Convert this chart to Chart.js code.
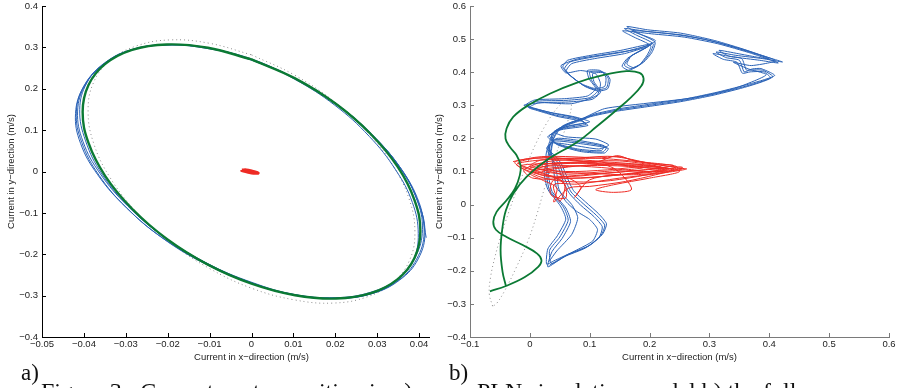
<!DOCTYPE html>
<html>
<head>
<meta charset="utf-8">
<script src="https://cdn.jsdelivr.net/npm/chart.js@4.4.0/dist/chart.umd.min.js"></script>
<style>
  html, body { margin: 0; padding: 0; background: #fff; overflow: hidden; }
  #page { position: relative; width: 899px; height: 388px; overflow: hidden; }
  canvas { position: absolute; top: 0; }
  #left { left: 0; }
  #right { left: 430px; background: #fff; }
  .tag { position: absolute; font-family: 'Liberation Serif', serif; font-size: 23px; line-height: 1; color: #111; }
  .caption { position: absolute; top: 379px; font-family: 'Liberation Serif', serif; font-size: 24px; line-height: 1; color: #111; white-space: nowrap; }
</style>
</head>
<body>
<div id="page">
  <canvas id="left" width="470" height="388"></canvas>
  <canvas id="right" width="469" height="388"></canvas>
  <div class="tag" style="left:21px; top:361px">a)</div>
  <div class="tag" style="left:449px; top:361px">b)</div>
  <div class="caption" style="left:41px">Figure 3:&nbsp; Current vector position in a)</div>
  <div class="caption" style="left:477px">PLN simulation model b) the full</div>
</div>
<script>
// ---- panel a: tidal ellipse ----
const leftXTicks = [-0.05, -0.04, -0.03, -0.02, -0.01, 0, 0.01, 0.02, 0.03, 0.04, 0.05];
const leftYTicks = [-0.4, -0.3, -0.2, -0.1, 0, 0.1, 0.2, 0.3, 0.4];

const leftReference = [
  [0, 0.282], [0.0101, 0.234], [0.0195, 0.171], [0.0276, 0.096], [0.0338, 0.014], [0.0377, -0.069],
  [0.039, -0.147], [0.0377, -0.215], [0.0338, -0.268], [0.0276, -0.303], [0.0195, -0.318], [0.0101, -0.310],
  [0, -0.282], [-0.0101, -0.234], [-0.0195, -0.171], [-0.0276, -0.096], [-0.0338, -0.014], [-0.0377, 0.069],
  [-0.039, 0.147], [-0.0377, 0.215], [-0.0338, 0.268], [-0.0276, 0.303], [-0.0195, 0.318], [-0.0101, 0.310],
  [0, 0.282]
];

const leftModel = [
  [0, 0.271], [0.0104, 0.225], [0.0202, 0.163], [0.0285, 0.090], [0.0349, 0.011], [0.0389, -0.069],
  [0.0403, -0.144], [0.0389, -0.209], [0.0349, -0.260], [0.0285, -0.294], [0.0202, -0.307], [0.0104, -0.299],
  [0, -0.271], [-0.0104, -0.225], [-0.0202, -0.163], [-0.0285, -0.090], [-0.0349, -0.011], [-0.0389, 0.069],
  [-0.0403, 0.144], [-0.0389, 0.209], [-0.0349, 0.260], [-0.0285, 0.294], [-0.0202, 0.307], [-0.0104, 0.299],
  [0, 0.271]
];

const leftObserved = [
  [0.0, 0.270], [0.0105, 0.224], [0.0204, 0.161], [0.0289, 0.087], [0.0356, 0.006], [0.0397, -0.072],
  [0.0412, -0.147], [0.0394, -0.212], [0.0352, -0.262], [0.0286, -0.295], [0.0201, -0.306], [0.0102, -0.298],
  [-0.0003, -0.268], [-0.0108, -0.221], [-0.0209, -0.158], [-0.0296, -0.083], [-0.0362, -0.004], [-0.0402, 0.072],
  [-0.0415, 0.146], [-0.0396, 0.211], [-0.0351, 0.261], [-0.0286, 0.294], [-0.0201, 0.306], [-0.0103, 0.298],
  [0.0, 0.269], [0.0102, 0.226], [0.0200, 0.164], [0.0283, 0.092], [0.0352, 0.014], [0.0394, -0.066],
  [0.0408, -0.140], [0.0391, -0.207], [0.0350, -0.259], [0.0284, -0.292], [0.0200, -0.305], [0.0101, -0.297],
  [-0.0004, -0.269], [-0.0110, -0.222], [-0.0213, -0.160], [-0.0300, -0.086], [-0.0367, -0.008], [-0.0408, 0.068],
  [-0.0420, 0.140], [-0.0400, 0.206], [-0.0353, 0.258], [-0.0287, 0.293], [-0.0202, 0.306], [-0.0104, 0.297],
  [0.0, 0.272], [0.0103, 0.223], [0.0199, 0.160], [0.0281, 0.085], [0.0344, 0.004], [0.0384, -0.075],
  [0.0398, -0.150], [0.0386, -0.214], [0.0347, -0.263], [0.0284, -0.296], [0.0203, -0.306], [0.0105, -0.298],
  [0.0001, -0.268], [-0.0106, -0.222], [-0.0206, -0.160], [-0.0292, -0.086], [-0.0357, -0.006], [-0.0396, 0.074],
  [-0.0410, 0.150], [-0.0393, 0.214], [-0.0350, 0.263], [-0.0285, 0.295], [-0.0201, 0.307], [-0.0104, 0.299],
  [0.0, 0.270], [0.0104, 0.225], [0.0203, 0.163], [0.0287, 0.090], [0.0354, 0.010], [0.0396, -0.070],
  [0.0414, -0.145], [0.0398, -0.211], [0.0354, -0.262], [0.0288, -0.295], [0.0203, -0.307], [0.0104, -0.299],
  [-0.0002, -0.270], [-0.0109, -0.224], [-0.0211, -0.162], [-0.0298, -0.088], [-0.0364, -0.009], [-0.0405, 0.070],
  [-0.0418, 0.144], [-0.0398, 0.210], [-0.0352, 0.260], [-0.0287, 0.294], [-0.0202, 0.306], [-0.0103, 0.298],
  [0.0, 0.270], [0.0104, 0.225], [0.0203, 0.163], [0.0287, 0.090], [0.0356, 0.008], [0.0400, -0.075],
  [0.0417, -0.160]
];

const leftResidual = [
  [-0.0023, 0.0035], [-0.0012, 0.0038], [0.0002, 0.0005], [0.0016, -0.0035], [0.0005, -0.0042],
  [-0.0010, -0.0010], [-0.0023, 0.0020], [-0.0023, 0.0035]
];

// ---- panel b: full current ----
const rightXTicks = [-0.1, 0, 0.1, 0.2, 0.3, 0.4, 0.5, 0.6];
const rightYTicks = [-0.4, -0.3, -0.2, -0.1, 0, 0.1, 0.2, 0.3, 0.4, 0.5, 0.6];

const rightReference = [
  [-0.0622, -0.307], [-0.0678, -0.269], [-0.0656, -0.219], [-0.0583, -0.158], [-0.0489, -0.098],
  [-0.0361, -0.027], [-0.0222, 0.043], [-0.0067, 0.114], [0.0100, 0.184], [0.0278, 0.245], [0.0472, 0.295],
  [0.0622, 0.315], [0.0694, 0.305], [0.0639, 0.255], [0.0500, 0.184], [0.0361, 0.114], [0.0250, 0.053],
  [0.0122, -0.027], [-0.0028, -0.108], [-0.0222, -0.188], [-0.0417, -0.259], [-0.0556, -0.299], [-0.0622, -0.307]
];

const rightModel = [
  [-0.0667, -0.262], [-0.040, -0.246], [-0.0083, -0.219], [0.0139, -0.188], [0.0194, -0.168], [0.0122, -0.148],
  [-0.0111, -0.123], [-0.0389, -0.098], [-0.0567, -0.076], [-0.0611, -0.052], [-0.0556, -0.022], [-0.0389, 0.013],
  [-0.025, 0.048], [-0.0167, 0.089], [-0.0156, 0.119], [-0.0222, 0.149], [-0.0333, 0.174], [-0.0406, 0.199],
  [-0.0389, 0.230], [-0.0278, 0.265], [-0.0028, 0.300], [0.0333, 0.335], [0.0778, 0.368], [0.1222, 0.391],
  [0.1611, 0.403], [0.1833, 0.398], [0.190, 0.381], [0.1861, 0.358], [0.1694, 0.325], [0.1444, 0.285],
  [0.1111, 0.235], [0.0806, 0.191], [0.0278, 0.134], [-0.0056, 0.084], [-0.0278, 0.033], [-0.040, -0.017],
  [-0.0456, -0.067], [-0.0489, -0.138], [-0.0456, -0.203], [-0.040, -0.246]
];

const rightObserved = [
  [0.033, -0.183], [0.061, -0.153], [0.097, -0.126], [0.119, -0.093], [0.125, -0.062], [0.111, -0.032],
  [0.089, 0.003], [0.069, 0.038], [0.058, 0.079], [0.050, 0.119], [0.039, 0.144], [0.031, 0.174],
  [0.042, 0.196], [0.083, 0.189], [0.128, 0.174], [0.122, 0.159], [0.083, 0.164], [0.044, 0.184],
  [0.033, 0.209], [0.056, 0.230], [0.094, 0.243], [0.083, 0.257], [0.044, 0.270], [0.006, 0.290],
  [-0.004, 0.297], [0.011, 0.312], [0.061, 0.315], [0.100, 0.323], [0.114, 0.345], [0.103, 0.376],
  [0.100, 0.401], [0.122, 0.401], [0.131, 0.381], [0.128, 0.353], [0.111, 0.347], [0.089, 0.361],
  [0.067, 0.391], [0.058, 0.411], [0.067, 0.431], [0.106, 0.446], [0.156, 0.461], [0.200, 0.481],
  [0.186, 0.466], [0.167, 0.446], [0.158, 0.421], [0.169, 0.411], [0.186, 0.426], [0.200, 0.456],
  [0.206, 0.486], [0.178, 0.512], [0.158, 0.532], [0.200, 0.522], [0.256, 0.512], [0.311, 0.491],
  [0.367, 0.461], [0.422, 0.431], [0.389, 0.441], [0.344, 0.451], [0.311, 0.461], [0.328, 0.444],
  [0.350, 0.436], [0.358, 0.401], [0.367, 0.406], [0.389, 0.406], [0.406, 0.386], [0.367, 0.361],
  [0.311, 0.335], [0.256, 0.315], [0.200, 0.300], [0.144, 0.285], [0.106, 0.270], [0.083, 0.255],
  [0.067, 0.245], [0.044, 0.225], [0.036, 0.194], [0.031, 0.154], [0.028, 0.094], [0.033, 0.043],
  [0.056, -0.007], [0.064, -0.047], [0.050, -0.098], [0.033, -0.138],
  [0.036, -0.178], [0.065, -0.150], [0.101, -0.122], [0.122, -0.088], [0.128, -0.058], [0.115, -0.028],
  [0.093, 0.008], [0.073, 0.042], [0.062, 0.083], [0.053, 0.122], [0.042, 0.148], [0.028, 0.170],
  [0.040, 0.192], [0.085, 0.184], [0.131, 0.170], [0.125, 0.156], [0.086, 0.160], [0.047, 0.180],
  [0.030, 0.205], [0.052, 0.226], [0.097, 0.239], [0.086, 0.252], [0.047, 0.266], [0.009, 0.286],
  [-0.002, 0.293], [0.014, 0.307], [0.064, 0.310], [0.104, 0.318], [0.118, 0.340], [0.107, 0.372],
  [0.105, 0.396], [0.126, 0.398], [0.134, 0.378], [0.130, 0.350], [0.114, 0.343], [0.092, 0.357],
  [0.070, 0.386], [0.061, 0.405], [0.070, 0.426], [0.108, 0.441], [0.158, 0.456], [0.196, 0.476],
  [0.182, 0.462], [0.163, 0.442], [0.154, 0.418], [0.165, 0.406], [0.182, 0.420], [0.196, 0.452],
  [0.202, 0.480], [0.174, 0.506], [0.155, 0.525], [0.203, 0.516], [0.258, 0.506], [0.314, 0.486],
  [0.370, 0.457], [0.415, 0.428], [0.384, 0.436], [0.340, 0.446], [0.306, 0.456], [0.323, 0.439],
  [0.346, 0.430], [0.355, 0.397], [0.368, 0.401], [0.391, 0.401], [0.402, 0.382], [0.364, 0.357],
  [0.308, 0.331], [0.252, 0.311], [0.197, 0.296], [0.141, 0.281], [0.102, 0.266], [0.080, 0.251],
  [0.064, 0.241], [0.041, 0.221], [0.033, 0.190], [0.027, 0.150], [0.031, 0.090], [0.037, 0.040],
  [0.060, -0.010], [0.068, -0.051], [0.054, -0.102], [0.037, -0.142],
  [0.030, -0.188], [0.057, -0.158], [0.093, -0.131], [0.116, -0.098], [0.121, -0.067], [0.107, -0.036],
  [0.085, -0.002], [0.066, 0.034], [0.055, 0.074], [0.047, 0.114], [0.036, 0.140], [0.033, 0.178],
  [0.045, 0.200], [0.081, 0.194], [0.124, 0.178], [0.119, 0.163], [0.080, 0.168], [0.041, 0.188],
  [0.036, 0.213], [0.059, 0.234], [0.091, 0.247], [0.080, 0.261], [0.041, 0.275], [0.002, 0.294],
  [-0.007, 0.301], [0.008, 0.316], [0.058, 0.320], [0.096, 0.328], [0.110, 0.350], [0.099, 0.380],
  [0.096, 0.405], [0.118, 0.405], [0.127, 0.385], [0.125, 0.357], [0.108, 0.351], [0.085, 0.366],
  [0.063, 0.396], [0.055, 0.416], [0.063, 0.436], [0.102, 0.451], [0.152, 0.466], [0.204, 0.486],
  [0.190, 0.470], [0.170, 0.450], [0.162, 0.425], [0.173, 0.414], [0.190, 0.430], [0.204, 0.460],
  [0.209, 0.491], [0.181, 0.518], [0.162, 0.538], [0.197, 0.528], [0.252, 0.518], [0.308, 0.496],
  [0.363, 0.466], [0.400, 0.440], [0.378, 0.446], [0.348, 0.456], [0.316, 0.466], [0.332, 0.449],
  [0.354, 0.441], [0.362, 0.406], [0.372, 0.410], [0.386, 0.411], [0.409, 0.390], [0.370, 0.366],
  [0.314, 0.340], [0.259, 0.319], [0.203, 0.304], [0.147, 0.289], [0.109, 0.274], [0.087, 0.259],
  [0.070, 0.249], [0.048, 0.229], [0.039, 0.198], [0.034, 0.158], [0.024, 0.098], [0.030, 0.046],
  [0.051, -0.004], [0.060, -0.044], [0.046, -0.094], [0.030, -0.134], [0.028, -0.180],
  [0.040, -0.170], [0.075, -0.140], [0.105, -0.110], [0.113, -0.075], [0.100, -0.045], [0.078, -0.020],
  [0.060, 0.010], [0.048, 0.050], [0.045, 0.095], [0.040, 0.130], [0.030, 0.160], [0.036, 0.186],
  [0.070, 0.180], [0.115, 0.168], [0.132, 0.180], [0.110, 0.198], [0.060, 0.205], [0.040, 0.220],
  [0.065, 0.238], [0.100, 0.250], [0.075, 0.265], [0.030, 0.280], [-0.010, 0.300], [0.020, 0.308],
  [0.070, 0.305], [0.112, 0.330], [0.118, 0.365], [0.110, 0.395], [0.085, 0.405], [0.060, 0.398],
  [0.052, 0.420], [0.080, 0.440], [0.130, 0.455], [0.180, 0.470], [0.210, 0.495], [0.170, 0.525],
  [0.230, 0.517], [0.290, 0.500], [0.350, 0.472], [0.410, 0.435], [0.370, 0.420], [0.340, 0.430],
  [0.365, 0.410], [0.395, 0.392], [0.340, 0.350], [0.270, 0.322], [0.190, 0.305], [0.125, 0.290],
  [0.090, 0.262], [0.055, 0.238], [0.040, 0.200], [0.036, 0.160], [0.040, 0.100], [0.045, 0.050],
  [0.070, 0.000], [0.080, -0.040], [0.070, -0.090], [0.045, -0.140], [0.032, -0.172]
];

const rightResidual = [
  [-0.028, 0.130], [0.020, 0.145], [0.100, 0.142], [0.180, 0.130], [0.245, 0.115], [0.200, 0.100],
  [0.120, 0.085], [0.050, 0.078], [0.005, 0.080], [-0.010, 0.105], [0.030, 0.130], [0.090, 0.135],
  [0.150, 0.120], [0.210, 0.110], [0.262, 0.108], [0.220, 0.095], [0.150, 0.080], [0.080, 0.062],
  [0.040, 0.060], [0.050, 0.010], [0.058, 0.060], [0.030, 0.090], [-0.020, 0.125], [0.010, 0.140],
  [0.070, 0.140], [0.130, 0.146], [0.160, 0.140], [0.200, 0.125], [0.240, 0.118], [0.190, 0.105],
  [0.130, 0.095], [0.070, 0.085], [0.020, 0.090], [0.000, 0.110], [0.040, 0.125], [0.110, 0.128],
  [0.145, 0.148], [0.170, 0.135], [0.230, 0.116], [0.255, 0.112], [0.210, 0.090], [0.160, 0.070],
  [0.100, 0.055], [0.065, 0.050], [0.040, 0.008], [0.045, 0.050], [0.020, 0.075], [0.000, 0.095],
  [0.030, 0.118], [0.080, 0.125], [0.140, 0.120], [0.190, 0.118], [0.225, 0.105], [0.180, 0.085],
  [0.120, 0.070], [0.060, 0.070], [0.015, 0.085], [-0.025, 0.128], [0.030, 0.142], [0.090, 0.130],
  [0.140, 0.110], [0.170, 0.047], [0.140, 0.037], [0.110, 0.045], [0.140, 0.060], [0.200, 0.080],
  [0.250, 0.100], [0.200, 0.115], [0.130, 0.105], [0.060, 0.100], [0.000, 0.115], [0.020, 0.135],
  [0.080, 0.132], [0.160, 0.125], [0.233, 0.108], [0.170, 0.095], [0.100, 0.075], [0.075, 0.022],
  [0.085, 0.055], [0.050, 0.092], [0.010, 0.110], [0.050, 0.118], [0.120, 0.112], [0.190, 0.100],
  [0.240, 0.104], [0.180, 0.122], [0.100, 0.120], [0.030, 0.105], [0.010, 0.095],
  [-0.022, 0.122], [0.040, 0.138], [0.110, 0.140], [0.150, 0.145], [0.175, 0.132], [0.215, 0.120],
  [0.255, 0.108], [0.205, 0.098], [0.140, 0.088], [0.085, 0.080], [0.030, 0.085], [0.005, 0.100],
  [0.060, 0.115], [0.130, 0.118], [0.200, 0.110], [0.230, 0.100], [0.170, 0.090], [0.100, 0.095],
  [0.045, 0.100], [0.020, 0.120], [0.070, 0.128], [0.150, 0.132], [0.220, 0.112], [0.160, 0.100],
  [0.090, 0.090], [0.040, 0.075], [0.035, 0.030], [0.060, 0.020], [0.055, 0.070], [0.010, 0.100],
  [-0.015, 0.118], [0.050, 0.125], [0.125, 0.125], [0.190, 0.112], [0.125, 0.100], [0.065, 0.092],
  [0.025, 0.098]
];

const BLUE = '#2a62b6';
const GREEN = '#0b7a34';
const RED = '#ee2b24';
const GREY = '#8c8c8c';

Chart.defaults.font.family = "'Liberation Sans', Arial, sans-serif";
Chart.defaults.font.size = 9.5;

function label(v) {
  const r = +v.toFixed(3);
  return r === 0 ? '0' : String(r).replace('-', '\u2212');
}

function trace(points, color, width, tension, dash) {
  return {
    data: points.map(([x, y]) => ({ x, y })),
    showLine: true,
    borderColor: color,
    borderWidth: width,
    borderDash: dash || [],
    pointRadius: 0,
    tension: tension,
    fill: false
  };
}

// inward tick marks along the left and bottom axes
const innerTicks = {
  id: 'innerTicks',
  afterDraw(chart, args, opts) {
    const { ctx, chartArea, scales: { x, y } } = chart;
    ctx.save();
    ctx.strokeStyle = opts.color;
    ctx.lineWidth = 1;
    ctx.beginPath();
    x.ticks.forEach(t => {
      const px = Math.round(x.getPixelForValue(t.value)) + 0.5;
      ctx.moveTo(px, chartArea.bottom);
      ctx.lineTo(px, chartArea.bottom - 4);
    });
    y.ticks.forEach(t => {
      const py = Math.round(y.getPixelForValue(t.value)) + 0.5;
      ctx.moveTo(chartArea.left, py);
      ctx.lineTo(chartArea.left + 4, py);
    });
    ctx.stroke();
    ctx.restore();
  }
};

function axis(kind, min, max, ticks, title, color, size, titlePad, tickPad) {
  return {
    type: 'linear',
    min, max,
    afterBuildTicks: s => { s.ticks = ticks.map(v => ({ value: v })); },
    afterFit: s => {
      if (kind === 'x') { s.height = size; s.paddingLeft = 0; s.paddingRight = 0; }
      else { s.width = size; s.paddingTop = 0; s.paddingBottom = 0; }
    },
    grid: { display: false, drawTicks: false },
    border: { display: true, color: color, width: 1 },
    ticks: { color: '#1c1c1c', padding: tickPad, autoSkip: false, maxRotation: 0, callback: v => label(v) },
    title: { display: true, text: title, color: '#1c1c1c', padding: titlePad }
  };
}

const XTITLE = 'Current in x\u2212direction (m/s)';
const YTITLE = 'Current in y\u2212direction (m/s)';

new Chart(document.getElementById('left'), {
  type: 'scatter',
  data: {
    datasets: [
      trace(leftResidual, RED, 3, 0.4),
      trace(leftModel, GREEN, 2.4, 0.4),
      trace(leftObserved, BLUE, 1, 0.4),
      trace(leftReference, GREY, 1, 0.4, [1, 3])
    ]
  },
  options: {
    responsive: false,
    animation: false,
    events: [],
    layout: { padding: { left: 0, top: 6, right: 9, bottom: 25 } },
    scales: {
      x: axis('x', -0.05, 0.05, leftXTicks, XTITLE, '#000', 26, { top: 0, bottom: 0 }, 2),
      y: axis('y', -0.4, 0.4, leftYTicks, YTITLE, '#000', 42, { top: 6, bottom: 0 }, 4)
    },
    plugins: { legend: { display: false }, tooltip: { enabled: false }, innerTicks: { color: '#000' } }
  },
  plugins: [innerTicks]
});

new Chart(document.getElementById('right'), {
  type: 'scatter',
  data: {
    datasets: [
      trace(rightModel, GREEN, 1.8, 0.4),
      trace(rightResidual, RED, 1, 0.3),
      trace(rightObserved, BLUE, 1, 0.2),
      trace(rightReference, GREY, 1, 0.4, [1, 3])
    ]
  },
  options: {
    responsive: false,
    animation: false,
    events: [],
    layout: { padding: { left: 0, top: 6, right: 10, bottom: 25 } },
    scales: {
      x: axis('x', -0.1, 0.6, rightXTicks, XTITLE, '#7a7a7a', 26, { top: 0, bottom: 0 }, 2),
      y: axis('y', -0.4, 0.6, rightYTicks, YTITLE, '#7a7a7a', 40, { top: 4, bottom: 0 }, 4)
    },
    plugins: { legend: { display: false }, tooltip: { enabled: false }, innerTicks: { color: '#7a7a7a' } }
  },
  plugins: [innerTicks]
});
</script>
</body>
</html>
